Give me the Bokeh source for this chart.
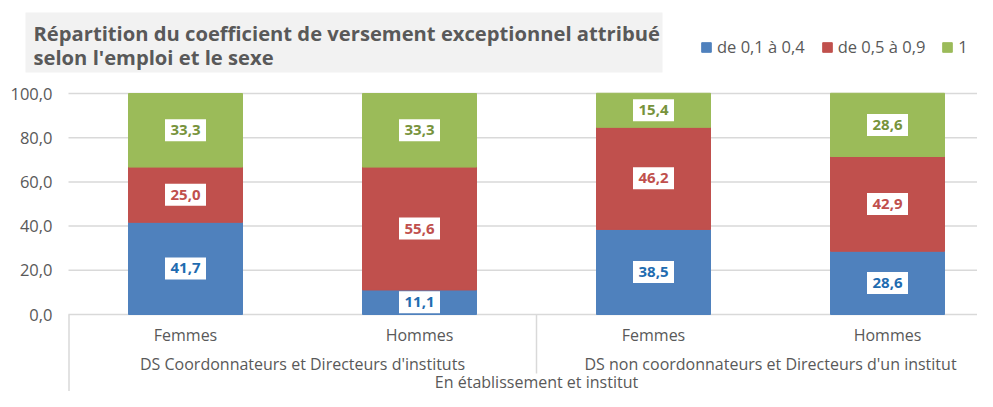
from bokeh.plotting import figure
from bokeh.models import (Range1d, Legend, LegendItem, Label, BoxAnnotation, ColumnDataSource)
from bokeh.core.properties import value
from bokeh.embed import file_html
from bokeh.resources import INLINE

# ---------------- data ----------------
title_lines = ["Répartition du coefficient de versement exceptionnel attribué",
               "selon l'emploi et le sexe"]
sexes = ["Femmes", "Hommes", "Femmes", "Hommes"]
groups = ["DS Coordonnateurs et Directeurs d'instituts",
          "DS non coordonnateurs et Directeurs d'un institut"]
top_group = ["En établissement et institut"]
series_names = ["de 0,1 à 0,4", "de 0,5 à 0,9", "1"]
low = [41.7, 11.1, 38.5, 28.6]
mid = [25.0, 55.6, 46.2, 42.9]
high = [33.3, 33.3, 15.4, 28.6]
y_ticks = [0, 20, 40, 60, 80, 100]
y_tick_labels = ["0,0", "20,0", "40,0", "60,0", "80,0", "100,0"]

bar_colors = ["#4f81bd", "#c0504d", "#9bbb59"]
label_colors = ["#1f6cb0", "#c0504d", "#77933c"]
text_grey = "#595959"
grid_grey = "#d9d9d9"
FONT = "Open Sans"

# ---------------- geometry helpers (picture pixel -> data) ----------------
W, H = 977, 391
LEFT = 68          # x pixel of the plotting area's left edge (x = 0)
CAT = 234.0        # pixels per category
Y0 = 314           # y pixel of value 0
PPU = 2.21         # pixels per percentage unit


def xd(px):
    return (px - LEFT) / CAT


def yd(py):
    return (Y0 - py) / PPU


xs = [i + 0.5 for i in range(len(sexes))]
src = ColumnDataSource(dict(x=xs, low=low, mid=mid, high=high))

p = figure(width=W, height=H,
           x_range=Range1d(xd(0), xd(W)),
           y_range=Range1d(yd(H), yd(0)),
           output_backend="svg", toolbar_location=None, tools="",
           x_axis_location=None, y_axis_location=None,
           min_border_left=0, min_border_right=0,
           min_border_top=0, min_border_bottom=0)
p.outline_line_color = None
p.background_fill_color = "white"
p.border_fill_color = "white"
p.xgrid.visible = False
p.ygrid.visible = False

# value axis: grid lines and tick labels
p.segment(x0=[0] * len(y_ticks), x1=[xd(W + 10)] * len(y_ticks),
          y0=y_ticks, y1=y_ticks, line_color=grid_grey, line_width=1.5)
p.text([xd(52)] * len(y_ticks), y_ticks, text=y_tick_labels, text_align="right",
       text_baseline="middle", text_font=value(FONT), text_font_size="16.5px",
       text_color=text_grey)

# bars
renderers = p.vbar_stack(["low", "mid", "high"], x="x", width=114 / CAT,
                         color=bar_colors, source=src)

# data labels
series = [low, mid, high]
bottoms = [0.0] * len(xs)
for vals, col in zip(series, label_colors):
    ys = [b + v / 2 for b, v in zip(bottoms, vals)]
    txt = [f"{v:.1f}".replace(".", ",") for v in vals]
    ls = ColumnDataSource(dict(x=xs, y=ys, t=txt))
    p.rect("x", "y", width=41, height=22, width_units="screen", height_units="screen",
           fill_color="white", line_color=None, source=ls)
    p.text("x", "y", text="t", source=ls, text_align="center", text_baseline="middle",
           text_font=value(FONT), text_font_style="bold", text_font_size="15px",
           text_color=col)
    bottoms = [b + v for b, v in zip(bottoms, vals)]

# category axis (three levels)
p.text(xs, [yd(334)] * 4, text=sexes, text_align="center", text_baseline="middle",
       text_font=value(FONT), text_font_size="16px", text_color=text_grey)
p.text([1, 3], [yd(363)] * 2, text=groups, text_align="center", text_baseline="middle",
       text_font=value(FONT), text_font_size="16px", text_color=text_grey)
p.text([2], [yd(381)], text=top_group, text_align="center", text_baseline="middle",
       text_font=value(FONT), text_font_size="16px", text_color=text_grey)
p.segment(x0=[xd(68.5), 2], y0=[0, 0], x1=[xd(68.5), 2], y1=[yd(H), yd(373)],
          line_color=grid_grey, line_width=1.5)

# title box
box = BoxAnnotation(left=xd(25), right=xd(662), top=yd(12), bottom=yd(72),
                    fill_color="#f2f2f2", fill_alpha=1.0, line_color=None,
                    level="annotation")
p.add_layout(box)
for i, line in enumerate(title_lines):
    p.add_layout(Label(x=xd(33), y=yd(32 + 24 * i), text=line, text_align="left",
                       text_baseline="middle", text_font=FONT, text_font_style="bold",
                       text_font_size="20.2px", text_color=text_grey))

# legend
legend = Legend(items=[LegendItem(label=n, renderers=[r]) for n, r in zip(series_names, renderers)],
                orientation="horizontal", location=(700, H - 58),
                glyph_width=12, glyph_height=12, label_height=12, label_standoff=5,
                spacing=16, padding=0, margin=0,
                background_fill_alpha=0, border_line_color=None,
                label_text_font=FONT, label_text_font_size="16.5px",
                label_text_color=text_grey)
p.add_layout(legend)

open("out.html", "w").write(file_html(p, INLINE))
